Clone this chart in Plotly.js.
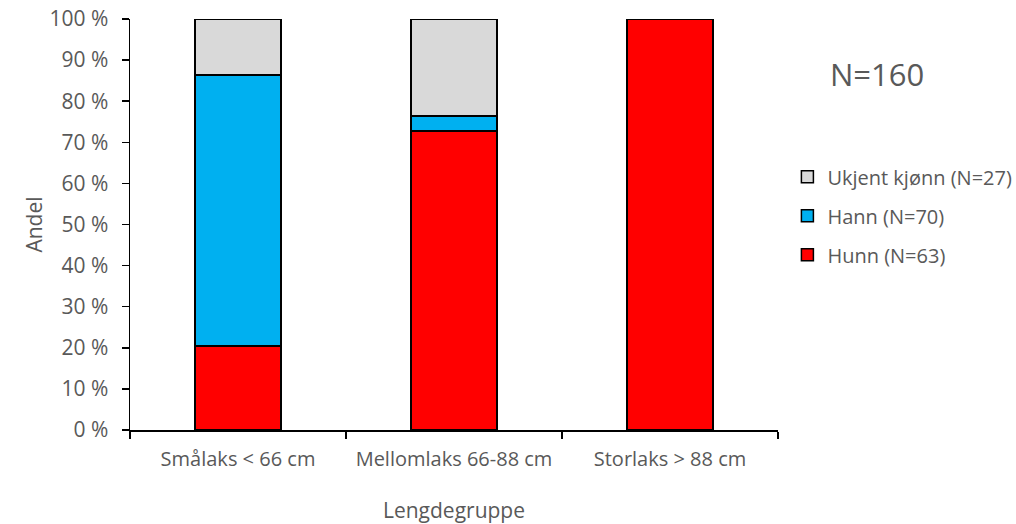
<!DOCTYPE html>
<html>
<head>
<meta charset="utf-8">
<script src="https://cdn.plot.ly/plotly-3.0.1.min.js"></script>
<style>html,body{margin:0;padding:0;background:#fff;}#chart{width:1016px;height:524px;}</style>
</head>
<body>
<div id="chart"></div>
<script>
const categories = ["Smålaks < 66 cm", "Mellomlaks 66-88 cm", "Storlaks > 88 cm"];
const hunn = [20.39, 72.73, 100];
const hann = [66.02, 3.64, 0];
const ukjent = [13.59, 23.64, 0];
const seriesNames = ["Hunn (N=63)", "Hann (N=70)", "Ukjent kjønn (N=27)"];
const seriesColors = ["#ff0000", "#00b0f0", "#d9d9d9"];
const yTicks = [0,10,20,30,40,50,60,70,80,90,100];

const fontFam = "'Open Sans', 'Noto Sans', sans-serif";
const txtColor = "#595959";
const data = [hunn, hann, ukjent].map((vals, i) => ({
  type: "bar",
  x: categories,
  y: vals,
  name: seriesNames[i],
  legendgroup: "g" + i,
  legendrank: 3 - i,
  marker: {color: seriesColors[i], line: {color: "#000", width: 1.5}},
  width: 0.4,
  hoverinfo: "y+name"
}));

const layout = {
  width: 1016, height: 524,
  barmode: "stack",
  paper_bgcolor: "#fff", plot_bgcolor: "#fff",
  margin: {l: 130, r: 238, t: 19, b: 94, autoexpand: false},
  font: {family: fontFam, size: 20, color: txtColor},
  xaxis: {
    type: "category",
    showline: true, linecolor: "#000", linewidth: 1.5,
    ticks: "outside", tickson: "boundaries", ticklen: 7, tickcolor: "#000", tickwidth: 1.5,
    tickangle: 0,
    ticklabelstandoff: 10,
    tickfont: {family: fontFam, size: 20, color: txtColor},
    title: {text: "Lengdegruppe", font: {family: fontFam, size: 21, color: txtColor}, standoff: 36},
    showgrid: false, zeroline: false
  },
  yaxis: {
    range: [0, 100],
    tickvals: yTicks,
    ticktext: yTicks.map(v => v + " %"),
    showline: true, linecolor: "#000", linewidth: 1.5,
    ticks: "outside", ticklen: 7, tickcolor: "#000", tickwidth: 1.5,
    ticklabelstandoff: 9,
    tickfont: {family: fontFam, size: 21, color: txtColor},
    title: {text: "Andel", font: {family: fontFam, size: 21, color: txtColor}, standoff: 1},
    showgrid: false, zeroline: false
  },
  legend: {
    xref: "container", yref: "container",
    x: 0.775, xanchor: "left", y: 0.70, yanchor: "top",
    traceorder: "grouped",
    font: {family: fontFam, size: 20, color: txtColor},
    tracegroupgap: 10, itemwidth: 30
  },
  annotations: [{
    text: "N=160", xref: "paper", yref: "paper", x: 1.153, y: 0.865,
    xanchor: "center", yanchor: "middle", showarrow: false,
    font: {family: fontFam, size: 31, color: txtColor}
  }],
  showlegend: true
};

Plotly.newPlot("chart", data, layout, {displayModeBar: false, staticPlot: true});
</script>
</body>
</html>
